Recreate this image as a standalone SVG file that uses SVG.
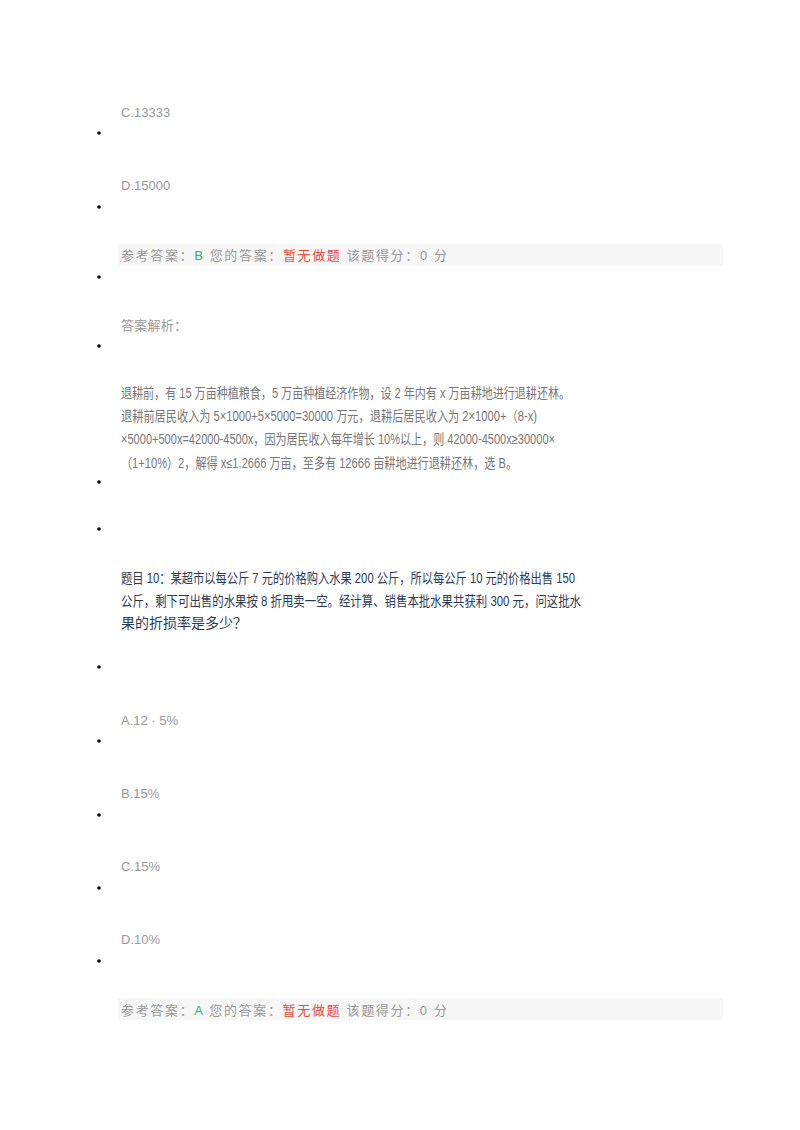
<svg xmlns="http://www.w3.org/2000/svg" width="800" height="1130" viewBox="0 0 800 1130">
<style>
text{font-family:"Liberation Sans","Noto Sans CJK SC",sans-serif;font-size:13px;fill:#999}
.p{fill:#777;font-size:14px}
.q{fill:#2b3a55;font-size:14px}
.g{fill:#2db37a}.r{fill:#e84c3d}
.box{fill:#f7f7f7}
</style>
<rect width="800" height="1130" fill="#fff"/>
<g fill="#000">
<circle cx="99" cy="133" r="1.8"/><circle cx="99" cy="207" r="1.8"/><circle cx="99" cy="277" r="1.8"/><circle cx="99" cy="346" r="1.8"/><circle cx="99" cy="482" r="1.8"/><circle cx="99" cy="529" r="1.8"/><circle cx="99" cy="667" r="1.8"/><circle cx="99" cy="741" r="1.8"/><circle cx="99" cy="815" r="1.8"/><circle cx="99" cy="888" r="1.8"/><circle cx="99" cy="961" r="1.8"/>
</g>
<text x="121" y="117">C.13333</text>
<text x="121" y="190">D.15000</text>
<rect class="box" x="118" y="244" width="605" height="22"/>
<text x="121" y="260" textLength="326" lengthAdjust="spacing">参考答案：<tspan class="g">B</tspan> 您的答案：<tspan class="r">暂无做题</tspan>  该题得分：0 分</text>
<text x="121" y="330" textLength="66" lengthAdjust="spacing">答案解析：</text>
<text class="p" x="121" y="398" textLength="449" lengthAdjust="spacingAndGlyphs">退耕前，有 15 万亩种植粮食，5 万亩种植经济作物，设 2 年内有 x 万亩耕地进行退耕还林。</text>
<text class="p" x="121" y="421" textLength="416" lengthAdjust="spacingAndGlyphs">退耕前居民收入为 5×1000+5×5000=30000 万元，退耕后居民收入为 2×1000+（8-x)</text>
<text class="p" x="121" y="444" textLength="434" lengthAdjust="spacingAndGlyphs">×5000+500x=42000-4500x，因为居民收入每年增长 10%以上，则 42000-4500x≥30000×</text>
<text class="p" x="121" y="468" textLength="396" lengthAdjust="spacingAndGlyphs">（1+10%）2，解得 x≤1.2666 万亩，至多有 12666 亩耕地进行退耕还林，选 B。</text>
<text class="q" x="121" y="583" textLength="454" lengthAdjust="spacingAndGlyphs">题目 10：某超市以每公斤 7 元的价格购入水果 200 公斤，所以每公斤 10 元的价格出售 150</text>
<text class="q" x="121" y="606" textLength="460" lengthAdjust="spacingAndGlyphs">公斤，剩下可出售的水果按 8 折甩卖一空。经计算、销售本批水果共获利 300 元，问这批水</text>
<text class="q" x="121" y="628">果的折损率是多少？</text>
<text x="121" y="725">A.12 · 5%</text>
<text x="121" y="798">B.15%</text>
<text x="121" y="871">C.15%</text>
<text x="121" y="944">D.10%</text>
<rect class="box" x="118" y="998" width="605" height="22"/>
<text x="121" y="1015" textLength="326" lengthAdjust="spacing">参考答案：<tspan class="g">A</tspan> 您的答案：<tspan class="r">暂无做题</tspan>  该题得分：0 分</text>
</svg>
